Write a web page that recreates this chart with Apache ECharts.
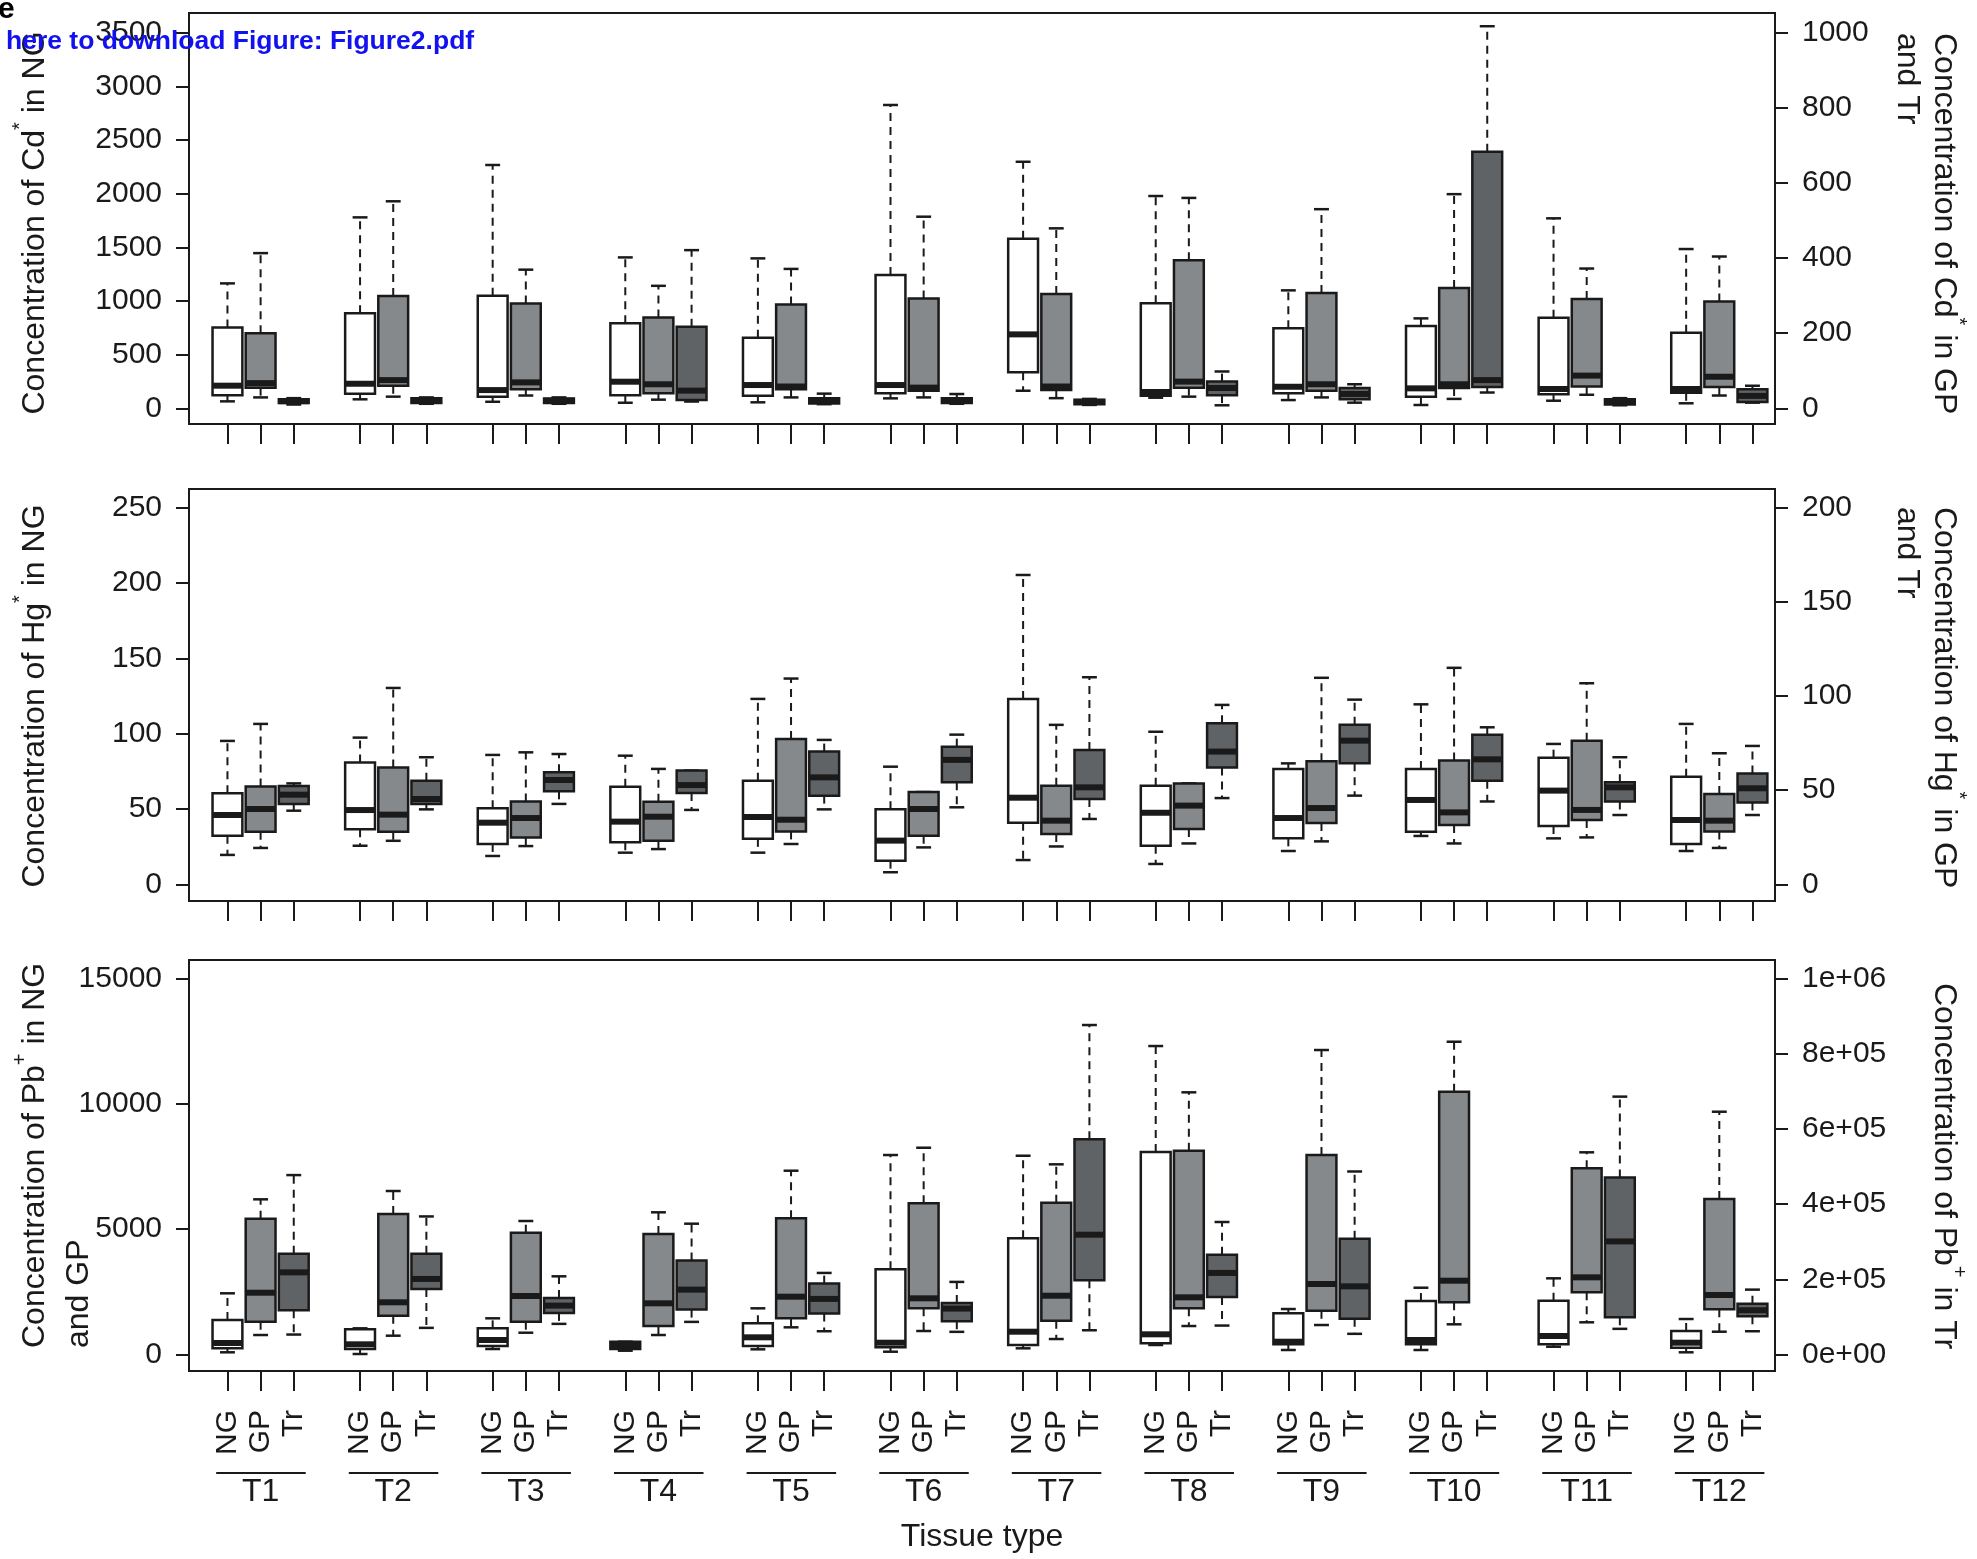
<!DOCTYPE html>
<html>
<head>
<meta charset="utf-8">
<script src="https://cdn.jsdelivr.net/npm/echarts@6/dist/echarts.min.js"></script>
<style>
  html, body { margin: 0; padding: 0; background: #ffffff; }
  #chart { width: 1977px; height: 1559px; }
</style>
</head>
<body>
<div id="chart"></div>
<script>
const FONT = '"Liberation Sans", Arial, Helvetica, sans-serif';
const INK = '#1a1a1a';

// ---- categories ----
const tissues = ['T1', 'T2', 'T3', 'T4', 'T5', 'T6', 'T7', 'T8', 'T9', 'T10', 'T11', 'T12'];
const sampleTypes = ['NG', 'GP', 'Tr'];

// ---- box statistics per tissue: [lower whisker, Q1, median, Q3, upper whisker] ----
// Cd: NG on the left axis, GP and Tr on the right axis
const cdNG = [
  [65, 121, 211, 754, 1164], [84, 136, 229, 885, 1779], [61, 108, 170, 1049, 2267],
  [52, 121, 248, 792, 1406], [56, 117, 217, 658, 1397], [93, 140, 217, 1242, 2826],
  [164, 335, 689, 1580, 2297], [99, 117, 152, 978, 1978], [77, 140, 201, 745, 1099],
  [31, 108, 186, 767, 838], [71, 130, 180, 844, 1770], [47, 145, 180, 704, 1484]
];
const cdGP = [
  [29, 55, 67, 200, 413], [31, 60, 75, 299, 551], [34, 51, 69, 279, 369],
  [23, 40, 64, 242, 326], [29, 51, 58, 276, 371], [29, 47, 55, 292, 510],
  [27, 49, 58, 304, 479], [31, 55, 71, 394, 560], [29, 47, 64, 307, 530],
  [25, 54, 64, 320, 570], [36, 58, 87, 291, 372], [34, 57, 84, 284, 404]
];
const cdTr = [
  [10, 14, 19, 24, 27], [12, 14, 20, 27, 29], [12, 14, 20, 26, 29],
  [18, 22, 47, 217, 421], [11, 13, 20, 27, 39], [12, 14, 20, 27, 38],
  [9, 11, 17, 23, 25], [8, 35, 54, 71, 98], [15, 24, 38, 54, 64],
  [42, 57, 75, 683, 1017], [8, 10, 17, 24, 27], [15, 17, 33, 51, 60]
];

// Hg: NG on the left axis, GP and Tr on the right axis
const hgNG = [
  [19.5, 32.3, 46, 60.4, 95.2], [25.6, 36.5, 49.3, 80.8, 97.4], [18.8, 26.8, 40.9, 50.5, 85.9],
  [21, 27.9, 41.6, 64.8, 85.4], [21, 30.2, 44.7, 68.8, 123.1], [8, 15.7, 29, 49.8, 78.1],
  [16.1, 40.9, 57.5, 123, 205.4], [13.5, 25.6, 47.5, 65.5, 101.3], [22.1, 30.5, 44, 76.6, 80.3],
  [32.1, 34.9, 56, 76.6, 119.5], [30.5, 38.7, 62.2, 84.1, 93.2], [22.1, 26.8, 42.7, 71.4, 106.5]
];
const hgGP = [
  [19.3, 27.9, 40, 51.9, 85.2], [23.1, 27.9, 37, 62.1, 104.3], [20.3, 24.9, 35.2, 44, 70.1],
  [18.7, 23.1, 35.9, 43.9, 61.3], [21.4, 28.1, 34.3, 77.2, 109.3], [19.6, 25.8, 40, 49, 49],
  [20.1, 26.7, 33.8, 52.4, 84.7], [21.7, 29.4, 41.8, 53.6, 53.6], [22.8, 32.5, 40.5, 65.3, 109.7],
  [21.7, 31.5, 38.2, 65.7, 115], [24.9, 34.1, 39.5, 76.3, 106.8], [19.3, 28.1, 33.8, 48, 69.6]
];
const hgTr = [
  [39.1, 42.7, 47.6, 52.2, 53.6], [39.8, 42.7, 45.3, 55, 67.5], [42.7, 49.4, 55.4, 59.5, 69.2],
  [39.5, 48.5, 52.7, 60.4, 60.4], [39.8, 47.1, 56.8, 70.5, 76.7], [40.9, 54.2, 66.1, 73.1, 79.5],
  [34.7, 45.3, 51.5, 71.4, 110], [45.8, 62.1, 70.5, 85.5, 95.3], [47.1, 64.3, 76.3, 84.8, 98.1],
  [44, 55, 66.4, 79.5, 83.4], [36.8, 44, 51.5, 54.2, 67.5], [36.8, 43.5, 51, 58.8, 73.5]
];

// Pb: NG and GP on the left axis, Tr on the right axis (no Tr samples for T10)
const pbNG = [
  [88, 247, 459, 1377, 2442], [20, 219, 407, 1005, 1045], [219, 339, 579, 1045, 1444],
  [152, 219, 367, 511, 511], [207, 339, 686, 1245, 1843], [112, 287, 471, 3399, 7960],
  [247, 379, 910, 4636, 7932], [379, 447, 806, 8080, 12309], [180, 407, 511, 1644, 1815],
  [180, 407, 579, 2135, 2665], [311, 407, 738, 2147, 3040], [88, 271, 471, 938, 1416]
];
const pbGP = [
  [778, 1309, 2466, 5419, 6192], [751, 1548, 2083, 5606, 6524], [870, 1309, 2334, 4860, 5327],
  [778, 1137, 2043, 4808, 5674], [1085, 1444, 2307, 5434, 7334], [938, 1843, 2242, 6033, 8251],
  [618, 1349, 2346, 6057, 7589], [1137, 1843, 2282, 8132, 10462], [1177, 1748, 2813, 7960, 12150],
  [1205, 2083, 2945, 10486, 12481], [1285, 2482, 3080, 7429, 8068], [910, 1803, 2374, 6204, 9688]
];
const pbTr = [
  [53100, 117700, 218600, 268300, 477300], [70900, 174500, 201000, 268300, 367300],
  [81500, 110700, 130100, 150600, 208000], [86800, 119500, 172600, 250000, 348000],
  [61900, 108900, 147900, 188600, 217000], [60300, 88500, 122200, 137300, 193100],
  [64500, 197300, 318700, 572900, 876500], [77000, 153300, 217000, 265600, 352500],
  [55000, 94800, 181400, 308100, 486900], null,
  [68300, 99100, 300900, 470900, 686000], [61900, 101700, 117700, 134700, 172600]
];

// ---- tick values ----
const cdLeftTicks = [0, 500, 1000, 1500, 2000, 2500, 3000, 3500];
const cdRightTicks = [0, 200, 400, 600, 800, 1000];
const hgLeftTicks = [0, 50, 100, 150, 200, 250];
const hgRightTicks = [0, 50, 100, 150, 200];
const pbLeftTicks = [0, 5000, 10000, 15000];
const pbRightTicks = [0, 200000, 400000, 600000, 800000, 1000000];

// ---- layout ----
const FILLS = ['#ffffff', '#85898c', '#5f6366'];
const X_RANGE = [-0.16, 47.68];
const panels = [
  { top: 13,  height: 411, left: [-146, 3683],  right: [-41.8, 1052.2] },
  { top: 489, height: 412, left: [-11.1, 262.5], right: [-8.88, 210] },
  { top: 960, height: 411, left: [-658, 15742], right: [-43870, 1049470] }
];

// box slot on the shared x scale: groups of three with a one-slot gap
const slot = (g, s) => 1 + 4 * g + s;
const slots = [];
tissues.forEach((t, g) => sampleTypes.forEach((st, s) => slots.push(slot(g, s))));
const groupCentres = tissues.map((t, g) => slot(g, 1));

const sci = v => v.toExponential(0).replace(/e([+-])(\d)$/, 'e$10$2');

function renderBox(fill) {
  return function (params, api) {
    const x = api.value(0);
    const yAt = v => api.coord([x, v])[1];
    const cx = api.coord([x, api.value(3)])[0];
    const yLo = yAt(api.value(1)), yQ1 = yAt(api.value(2)), yMed = yAt(api.value(3));
    const yQ3 = yAt(api.value(4)), yHi = yAt(api.value(5));
    const w = api.size([0.9, 0])[0];
    const half = w / 2, cap = w / 4;
    const dashed = { stroke: INK, lineWidth: 2, lineDash: [8, 6] };
    const solid = { stroke: INK, lineWidth: 2.5 };
    return {
      type: 'group',
      children: [
        { type: 'line', shape: { x1: cx, y1: yQ3, x2: cx, y2: yHi }, style: dashed },
        { type: 'line', shape: { x1: cx, y1: yQ1, x2: cx, y2: yLo }, style: dashed },
        { type: 'line', shape: { x1: cx - cap, y1: yHi, x2: cx + cap, y2: yHi }, style: solid },
        { type: 'line', shape: { x1: cx - cap, y1: yLo, x2: cx + cap, y2: yLo }, style: solid },
        { type: 'rect', shape: { x: cx - half, y: yQ3, width: w, height: yQ1 - yQ3 },
          style: { fill: fill, stroke: INK, lineWidth: 2.5 } },
        { type: 'line', shape: { x1: cx - half, y1: yMed, x2: cx + half, y2: yMed },
          style: { stroke: INK, lineWidth: 6 } }
      ]
    };
  };
}

function boxSeries(name, stats, s, xAxisIndex, yAxisIndex) {
  const data = [];
  stats.forEach((st, g) => { if (st) data.push([slot(g, s)].concat(st)); });
  return {
    name: name, type: 'custom', xAxisIndex: xAxisIndex, yAxisIndex: yAxisIndex,
    data: data, encode: { x: 0, y: [1, 2, 3, 4, 5] },
    renderItem: renderBox(FILLS[s]), silent: true, clip: false
  };
}

function yAxisCfg(gridIndex, position, range, ticks, fmt) {
  return {
    type: 'value', gridIndex: gridIndex, position: position, offset: 0,
    min: range[0], max: range[1],
    axisLine: { show: false, onZero: false }, splitLine: { show: false },
    axisTick: { show: true, customValues: ticks, length: 13, lineStyle: { color: INK, width: 2 } },
    axisLabel: { customValues: ticks, formatter: fmt || (v => String(v)),
      fontSize: 30, fontFamily: FONT, color: INK, margin: 27 }
  };
}

function xAxisCfg(gridIndex, withLabels) {
  return {
    type: 'value', gridIndex: gridIndex, position: 'bottom', offset: 0,
    min: X_RANGE[0], max: X_RANGE[1],
    axisLine: { show: false, onZero: false }, splitLine: { show: false },
    axisTick: { show: true, customValues: slots, length: 20, lineStyle: { color: INK, width: 2 } },
    axisLabel: withLabels ? {
      customValues: slots, rotate: 90, margin: 39,
      formatter: v => sampleTypes[(Math.round(v) - 1) % 4],
      fontSize: 30, fontFamily: FONT, color: INK
    } : { show: false }
  };
}

const option = {
  animation: false,
  backgroundColor: '#ffffff',
  grid: panels.map(p => ({
    left: 189, right: 202, top: p.top, height: p.height,
    show: true, borderColor: INK, borderWidth: 2, backgroundColor: 'transparent'
  })),
  xAxis: [
    xAxisCfg(0, false), xAxisCfg(1, false), xAxisCfg(2, true),
    {
      type: 'value', gridIndex: 2, position: 'bottom', offset: 0,
      min: X_RANGE[0], max: X_RANGE[1],
      axisLine: { show: false, onZero: false }, axisTick: { show: false }, splitLine: { show: false },
      axisLabel: { customValues: groupCentres, formatter: v => tissues[(Math.round(v) - 2) / 4],
        margin: 105, fontSize: 32, fontFamily: FONT, color: INK },
      name: 'Tissue type', nameLocation: 'middle', nameGap: 150,
      nameTextStyle: { fontSize: 32, fontFamily: FONT, color: INK }
    }
  ],
  yAxis: [
    yAxisCfg(0, 'left', panels[0].left, cdLeftTicks),
    yAxisCfg(0, 'right', panels[0].right, cdRightTicks),
    yAxisCfg(1, 'left', panels[1].left, hgLeftTicks),
    yAxisCfg(1, 'right', panels[1].right, hgRightTicks),
    yAxisCfg(2, 'left', panels[2].left, pbLeftTicks),
    yAxisCfg(2, 'right', panels[2].right, pbRightTicks, sci)
  ],
  series: [
    boxSeries('Cd NG', cdNG, 0, 0, 0),
    boxSeries('Cd GP', cdGP, 1, 0, 1),
    boxSeries('Cd Tr', cdTr, 2, 0, 1),
    boxSeries('Hg NG', hgNG, 0, 1, 2),
    boxSeries('Hg GP', hgGP, 1, 1, 3),
    boxSeries('Hg Tr', hgTr, 2, 1, 3),
    boxSeries('Pb NG', pbNG, 0, 2, 4),
    boxSeries('Pb GP', pbGP, 1, 2, 4),
    boxSeries('Pb Tr', pbTr, 2, 2, 5)
  ]
};

const chart = echarts.init(document.getElementById('chart'), null, { renderer: 'canvas' });
chart.setOption(option);

// ---- axis titles, group underlines and header text ----
const titleRich = {
  t: { fontSize: 32, fontFamily: FONT, fill: INK, lineHeight: 50 },
  s: { fontSize: 20, fontFamily: FONT, fill: INK, verticalAlign: 'top', lineHeight: 50 }
};
function axisTitle(text, x, y, rotation, align) {
  return {
    type: 'text', x: x, y: y, rotation: rotation, z: 20, silent: true,
    style: { text: text, rich: titleRich, align: align, verticalAlign: 'middle',
      fontSize: 32, fontFamily: FONT, fill: INK }
  };
}
const UP = Math.PI / 2, DOWN = -Math.PI / 2;
const graphics = [
  axisTitle('{t|Concentration of Cd}{s|*}{t| in NG}', 35, 223, UP, 'center'),
  axisTitle('{t|Concentration of Hg}{s|*}{t| in NG}', 35.5, 696, UP, 'center'),
  axisTitle('{t|Concentration of Pb}{s|+}{t| in NG}', 35.5, 1348, UP, 'left'),
  axisTitle('{t|and GP}', 79, 1348, UP, 'left'),
  axisTitle('{t|Concentration of Cd}{s|*}{t| in GP}', 1944, 33, DOWN, 'left'),
  axisTitle('{t|and Tr}', 1907, 33, DOWN, 'left'),
  axisTitle('{t|Concentration of Hg}{s|*}{t| in GP}', 1944, 507, DOWN, 'left'),
  axisTitle('{t|and Tr}', 1907, 507, DOWN, 'left'),
  axisTitle('{t|Concentration of Pb}{s|+}{t| in Tr}', 1944, 983, DOWN, 'left')
];

// underline under each NG/GP/Tr triple
const bottomGrid = panels[2].top + panels[2].height;
tissues.forEach((t, g) => {
  const x1 = chart.convertToPixel({ xAxisIndex: 2 }, slot(g, 0) - 0.34);
  const x2 = chart.convertToPixel({ xAxisIndex: 2 }, slot(g, 2) + 0.36);
  graphics.push({
    type: 'line', silent: true, z: 20,
    shape: { x1: x1, y1: bottomGrid + 102, x2: x2, y2: bottomGrid + 102 },
    style: { stroke: INK, lineWidth: 2 }
  });
});

graphics.push({
  type: 'text', x: -2, y: -5, z: 30, silent: true,
  style: { text: 'e', fontSize: 30, fontWeight: 'bold', fontFamily: FONT, fill: '#000000', verticalAlign: 'top' }
});
graphics.push({
  type: 'text', x: 6, y: 28, z: 30, silent: true,
  style: { text: 'here to download Figure: Figure2.pdf', fontSize: 26.5, fontWeight: 'bold',
    fontFamily: FONT, fill: '#1212f0', verticalAlign: 'top' }
});

chart.setOption({ graphic: graphics });
</script>
</body>
</html>
